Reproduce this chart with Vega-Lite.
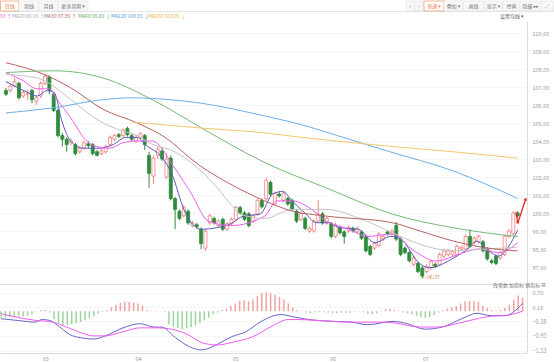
{
  "$schema": "https://vega.github.io/schema/vega-lite/v6.json",
  "padding": 0,
  "autosize": {"type": "pad"},
  "background": "#ffffff",
  "spacing": 0,
  "bounds": "flush",
  "resolve": {"scale": {"color": "independent", "x": "independent", "y": "independent"}},
  "config": {
    "view": {"stroke": null},
    "font": "Noto Sans CJK SC, DejaVu Sans",
    "axis": {"labelFont": "Noto Sans CJK SC, DejaVu Sans"}
  },
  "datasets": {
    "tb": [
      {"a": 0, "b": 1, "m": 0.5, "t": "日线", "kind": "on"},
      {"a": 1, "b": 2, "m": 1.5, "t": "周线", "kind": "off"},
      {"a": 2, "b": 3, "m": 2.5, "t": "月线", "kind": "off"},
      {"a": 3, "b": 4, "m": 3.5, "t": "更多周期 ▾", "kind": "off"},
      {"a": 5, "b": 6, "m": 5.5, "t": "+", "kind": "sym"},
      {"a": 6, "b": 7, "m": 6.5, "t": "−", "kind": "sym"},
      {"a": 7, "b": 8, "m": 7.5, "t": "普通 ▾", "kind": "on"},
      {"a": 8, "b": 9, "m": 8.5, "t": "叠加 ▾", "kind": "off"},
      {"a": 9, "b": 10, "m": 9.5, "t": "画线", "kind": "off"},
      {"a": 10, "b": 11, "m": 10.5, "t": "显示 ▾", "kind": "off"},
      {"a": 11, "b": 12, "m": 11.5, "t": "经典", "kind": "off"},
      {"a": 12, "b": 13, "m": 12.5, "t": "隐藏 ▸▸", "kind": "off"},
      {"a": 13, "b": 14, "m": 13.5, "t": "⤢", "kind": "sym"}
    ],
    "lg": [
      {"n": 0, "t": "93 ↑", "kind": "ma10"},
      {"n": 1, "t": "MA20 98.10 ↑", "kind": "ma20"},
      {"n": 2, "t": "MA30 97.89 ↑", "kind": "ma30"},
      {"n": 3, "t": "MA60 98.69 ↓", "kind": "ma60"},
      {"n": 4, "t": "MA120 100.81 ↓", "kind": "ma120"},
      {"n": 5, "t": "MA250 103.05 ↓", "kind": "ma250"},
      {"n": 6, "t": "设置均线 ▾", "kind": "ui"}
    ],
    "k": [
      {"i":0,"o":106.8,"c":106.6,"h":106.95,"l":106.5},
      {"i":1,"o":106.8,"c":107.05,"h":107.15,"l":106.7},
      {"i":2,"o":107.05,"c":107.3,"h":107.5,"l":107.0},
      {"i":3,"o":107.2,"c":106.4,"h":107.3,"l":106.3},
      {"i":4,"o":106.5,"c":106.7,"h":106.8,"l":106.4},
      {"i":5,"o":106.6,"c":106.62,"h":106.85,"l":106.3},
      {"i":6,"o":106.8,"c":106.3,"h":106.9,"l":106.1},
      {"i":7,"o":106.2,"c":106.4,"h":106.5,"l":106.0},
      {"i":8,"o":106.5,"c":107.2,"h":107.3,"l":106.4},
      {"i":9,"o":107.2,"c":107.6,"h":107.75,"l":107.1},
      {"i":10,"o":107.55,"c":106.8,"h":107.65,"l":106.6},
      {"i":11,"o":106.6,"c":105.7,"h":106.7,"l":105.6},
      {"i":12,"o":105.7,"c":104.3,"h":105.8,"l":104.2},
      {"i":13,"o":104.3,"c":104.1,"h":104.45,"l":103.7},
      {"i":14,"o":104.1,"c":103.8,"h":104.2,"l":103.4},
      {"i":15,"o":103.9,"c":104.0,"h":104.15,"l":103.75},
      {"i":16,"o":103.8,"c":103.3,"h":103.9,"l":103.2},
      {"i":17,"o":103.4,"c":103.6,"h":103.7,"l":103.3},
      {"i":18,"o":103.6,"c":103.9,"h":104.0,"l":103.5},
      {"i":19,"o":103.85,"c":103.75,"h":104.0,"l":103.6},
      {"i":20,"o":103.8,"c":103.3,"h":103.9,"l":103.2},
      {"i":21,"o":103.4,"c":103.2,"h":103.5,"l":103.15},
      {"i":22,"o":103.3,"c":103.45,"h":103.55,"l":103.2},
      {"i":23,"o":103.4,"c":103.7,"h":103.8,"l":103.3},
      {"i":24,"o":103.8,"c":104.2,"h":104.3,"l":103.7},
      {"i":25,"o":104.1,"c":104.3,"h":104.4,"l":104.0},
      {"i":26,"o":104.35,"c":104.25,"h":104.45,"l":104.15},
      {"i":27,"o":104.3,"c":104.6,"h":104.7,"l":104.2},
      {"i":28,"o":104.7,"c":104.35,"h":104.8,"l":104.25},
      {"i":29,"o":104.3,"c":104.1,"h":104.4,"l":104.0},
      {"i":30,"o":104.0,"c":104.2,"h":104.35,"l":103.9},
      {"i":31,"o":104.2,"c":104.4,"h":104.5,"l":104.1},
      {"i":32,"o":104.3,"c":103.8,"h":104.4,"l":103.5},
      {"i":33,"o":103.2,"c":102.2,"h":103.4,"l":101.4},
      {"i":34,"o":102.05,"c":103.05,"h":103.2,"l":101.6},
      {"i":35,"o":103.2,"c":103.55,"h":103.7,"l":103.0},
      {"i":36,"o":103.45,"c":103.0,"h":103.6,"l":102.9},
      {"i":37,"o":102.0,"c":103.0,"h":103.3,"l":101.9},
      {"i":38,"o":103.05,"c":100.8,"h":103.2,"l":100.7},
      {"i":39,"o":100.8,"c":100.2,"h":100.9,"l":99.1},
      {"i":40,"o":100.1,"c":99.7,"h":100.2,"l":99.6},
      {"i":41,"o":99.85,"c":100.3,"h":100.45,"l":99.75},
      {"i":42,"o":100.1,"c":99.45,"h":100.2,"l":99.35},
      {"i":43,"o":99.3,"c":99.45,"h":99.55,"l":99.2},
      {"i":44,"o":99.35,"c":99.25,"h":99.45,"l":99.15},
      {"i":45,"o":99.1,"c":98.3,"h":99.2,"l":98.0},
      {"i":46,"o":98.05,"c":99.0,"h":99.1,"l":97.9},
      {"i":47,"o":99.45,"c":99.85,"h":99.95,"l":99.35},
      {"i":48,"o":99.7,"c":99.45,"h":99.8,"l":99.35},
      {"i":49,"o":99.3,"c":99.55,"h":99.65,"l":99.2},
      {"i":50,"o":99.65,"c":99.1,"h":99.75,"l":99.0},
      {"i":51,"o":99.1,"c":99.4,"h":99.5,"l":99.0},
      {"i":52,"o":99.4,"c":99.65,"h":99.75,"l":99.3},
      {"i":53,"o":99.65,"c":100.3,"h":100.4,"l":99.55},
      {"i":54,"o":100.3,"c":100.0,"h":100.4,"l":99.9},
      {"i":55,"o":100.0,"c":99.65,"h":100.1,"l":99.55},
      {"i":56,"o":99.95,"c":99.3,"h":100.05,"l":99.2},
      {"i":57,"o":99.55,"c":99.85,"h":99.95,"l":99.45},
      {"i":58,"o":99.95,"c":100.7,"h":100.8,"l":99.85},
      {"i":59,"o":100.7,"c":100.35,"h":100.8,"l":100.25},
      {"i":60,"o":100.8,"c":101.8,"h":101.95,"l":100.7},
      {"i":61,"o":101.7,"c":101.05,"h":101.8,"l":100.95},
      {"i":62,"o":100.5,"c":101.1,"h":101.2,"l":100.4},
      {"i":63,"o":101.05,"c":100.95,"h":101.2,"l":100.85},
      {"i":64,"o":100.7,"c":101.1,"h":101.2,"l":100.6},
      {"i":65,"o":100.8,"c":100.5,"h":100.9,"l":100.4},
      {"i":66,"o":100.7,"c":100.2,"h":100.8,"l":100.1},
      {"i":67,"o":100.1,"c":99.55,"h":100.2,"l":99.45},
      {"i":68,"o":99.65,"c":100.0,"h":100.1,"l":99.55},
      {"i":69,"o":99.7,"c":99.15,"h":99.8,"l":99.05},
      {"i":70,"o":99.0,"c":99.15,"h":99.25,"l":98.9},
      {"i":71,"o":99.0,"c":99.55,"h":99.65,"l":98.9},
      {"i":72,"o":99.55,"c":99.95,"h":100.7,"l":99.45},
      {"i":73,"o":99.95,"c":99.45,"h":100.05,"l":99.35},
      {"i":74,"o":99.45,"c":99.7,"h":99.8,"l":99.35},
      {"i":75,"o":99.4,"c":98.7,"h":99.5,"l":98.6},
      {"i":76,"o":98.7,"c":99.35,"h":99.45,"l":98.6},
      {"i":77,"o":99.2,"c":98.9,"h":99.3,"l":98.8},
      {"i":78,"o":98.95,"c":98.7,"h":99.05,"l":98.3},
      {"i":79,"o":99.0,"c":99.2,"h":99.3,"l":98.9},
      {"i":80,"o":99.15,"c":99.0,"h":99.25,"l":98.9},
      {"i":81,"o":98.95,"c":99.15,"h":99.25,"l":98.85},
      {"i":82,"o":98.95,"c":98.6,"h":99.05,"l":98.5},
      {"i":83,"o":98.7,"c":97.9,"h":98.8,"l":97.8},
      {"i":84,"o":98.15,"c":97.7,"h":98.25,"l":97.6},
      {"i":85,"o":98.05,"c":98.3,"h":98.4,"l":97.95},
      {"i":86,"o":98.2,"c":98.85,"h":98.95,"l":98.1},
      {"i":87,"o":98.55,"c":98.7,"h":98.8,"l":98.45},
      {"i":88,"o":98.95,"c":98.85,"h":99.05,"l":98.75},
      {"i":89,"o":98.85,"c":99.0,"h":99.1,"l":98.75},
      {"i":90,"o":99.3,"c":98.55,"h":99.5,"l":98.45},
      {"i":91,"o":98.55,"c":97.7,"h":98.65,"l":97.6},
      {"i":92,"o":98.05,"c":97.8,"h":98.15,"l":97.7},
      {"i":93,"o":97.8,"c":97.35,"h":97.9,"l":97.25},
      {"i":94,"o":97.15,"c":97.5,"h":97.6,"l":97.05},
      {"i":95,"o":97.2,"c":96.75,"h":97.3,"l":96.65},
      {"i":96,"o":96.95,"c":96.5,"h":97.05,"l":96.37},
      {"i":97,"o":96.75,"c":97.05,"h":97.15,"l":96.65},
      {"i":98,"o":96.95,"c":97.3,"h":97.4,"l":96.85},
      {"i":99,"o":97.15,"c":97.05,"h":97.25,"l":96.95},
      {"i":100,"o":97.15,"c":97.7,"h":97.8,"l":97.05},
      {"i":101,"o":97.6,"c":97.9,"h":98.0,"l":97.5},
      {"i":102,"o":97.7,"c":97.9,"h":98.0,"l":97.6},
      {"i":103,"o":97.7,"c":97.85,"h":97.95,"l":97.6},
      {"i":104,"o":97.7,"c":98.15,"h":98.25,"l":97.6},
      {"i":105,"o":98.0,"c":98.1,"h":98.2,"l":97.9},
      {"i":106,"o":98.0,"c":98.7,"h":98.8,"l":97.9},
      {"i":107,"o":98.7,"c":98.15,"h":99.1,"l":98.05},
      {"i":108,"o":98.35,"c":98.6,"h":98.7,"l":98.25},
      {"i":109,"o":98.4,"c":98.7,"h":98.8,"l":98.3},
      {"i":110,"o":98.4,"c":97.9,"h":98.5,"l":97.8},
      {"i":111,"o":98.0,"c":97.45,"h":98.1,"l":97.35},
      {"i":112,"o":97.35,"c":97.25,"h":97.45,"l":97.15},
      {"i":113,"o":97.6,"c":97.2,"h":97.7,"l":97.1},
      {"i":114,"o":97.5,"c":97.8,"h":97.9,"l":97.4},
      {"i":115,"o":97.7,"c":98.7,"h":98.8,"l":97.6},
      {"i":116,"o":98.7,"c":99.0,"h":99.1,"l":98.6},
      {"i":117,"o":98.85,"c":100.0,"h":100.1,"l":98.75},
      {"i":118,"o":100.0,"c":99.85,"h":100.1,"l":99.75}
    ],
    "ma": [
      {"ma":"MA5","i":0,"v":107.3},{"ma":"MA5","i":2.7,"v":106.96},{"ma":"MA5","i":5,"v":106.7},{"ma":"MA5","i":7.2,"v":106.5},{"ma":"MA5","i":9.5,"v":106.8},{"ma":"MA5","i":11.1,"v":106.7},{"ma":"MA5","i":12.9,"v":105.1},{"ma":"MA5","i":14.9,"v":104.0},{"ma":"MA5","i":17.9,"v":103.6},{"ma":"MA5","i":21.7,"v":103.6},{"ma":"MA5","i":24.7,"v":103.8},{"ma":"MA5","i":27.6,"v":104.2},{"ma":"MA5","i":30.3,"v":104.2},{"ma":"MA5","i":32.1,"v":103.8},{"ma":"MA5","i":36,"v":103.07},{"ma":"MA5","i":38.2,"v":102.2},{"ma":"MA5","i":41.2,"v":100.1},{"ma":"MA5","i":45,"v":99.1},{"ma":"MA5","i":48.9,"v":99.2},{"ma":"MA5","i":51.8,"v":99.4},{"ma":"MA5","i":54.8,"v":99.83},{"ma":"MA5","i":58.6,"v":99.94},{"ma":"MA5","i":61.5,"v":101.05},{"ma":"MA5","i":63.8,"v":101.2},{"ma":"MA5","i":66,"v":100.67},{"ma":"MA5","i":69.2,"v":99.94},{"ma":"MA5","i":71.5,"v":99.46},{"ma":"MA5","i":74.4,"v":99.46},{"ma":"MA5","i":76.7,"v":99.2},{"ma":"MA5","i":81.2,"v":99.1},{"ma":"MA5","i":85.1,"v":98.35},{"ma":"MA5","i":88.7,"v":98.7},{"ma":"MA5","i":91,"v":98.56},{"ma":"MA5","i":95.5,"v":97.17},{"ma":"MA5","i":97.7,"v":96.96},{"ma":"MA5","i":103.2,"v":97.5},{"ma":"MA5","i":106.8,"v":98.07},{"ma":"MA5","i":108.4,"v":98.44},{"ma":"MA5","i":111.3,"v":97.9},{"ma":"MA5","i":113.6,"v":97.6},{"ma":"MA5","i":115.8,"v":98.1},{"ma":"MA5","i":118,"v":99.05},
      {"ma":"MA10","i":0,"v":107.8},{"ma":"MA10","i":3.6,"v":107.4},{"ma":"MA10","i":7.2,"v":106.9},{"ma":"MA10","i":10,"v":106.9},{"ma":"MA10","i":11.8,"v":106.3},{"ma":"MA10","i":14.9,"v":105.3},{"ma":"MA10","i":18.6,"v":104.0},{"ma":"MA10","i":20.8,"v":103.7},{"ma":"MA10","i":24,"v":103.6},{"ma":"MA10","i":26.9,"v":103.9},{"ma":"MA10","i":30.3,"v":104.0},{"ma":"MA10","i":33.7,"v":104.0},{"ma":"MA10","i":38.9,"v":102.5},{"ma":"MA10","i":42.8,"v":101.05},{"ma":"MA10","i":46.6,"v":99.56},{"ma":"MA10","i":51.8,"v":99.3},{"ma":"MA10","i":59.7,"v":99.83},{"ma":"MA10","i":62.4,"v":100.67},{"ma":"MA10","i":66.1,"v":100.67},{"ma":"MA10","i":69.9,"v":100.3},{"ma":"MA10","i":73.8,"v":99.56},{"ma":"MA10","i":79,"v":99.1},{"ma":"MA10","i":83.5,"v":98.7},{"ma":"MA10","i":89.1,"v":98.83},{"ma":"MA10","i":94.1,"v":97.9},{"ma":"MA10","i":99.3,"v":97.33},{"ma":"MA10","i":103.2,"v":97.6},{"ma":"MA10","i":109.1,"v":98.0},{"ma":"MA10","i":113.6,"v":97.8},{"ma":"MA10","i":118,"v":98.35},
      {"ma":"MA20","i":0,"v":107.7},{"ma":"MA20","i":7.2,"v":107.5},{"ma":"MA20","i":10,"v":107.2},{"ma":"MA20","i":14.9,"v":106.3},{"ma":"MA20","i":22.4,"v":105.0},{"ma":"MA20","i":26.9,"v":104.56},{"ma":"MA20","i":30.3,"v":104.3},{"ma":"MA20","i":33,"v":103.9},{"ma":"MA20","i":38.9,"v":103.4},{"ma":"MA20","i":48,"v":101.6},{"ma":"MA20","i":51.8,"v":100.5},{"ma":"MA20","i":54,"v":99.94},{"ma":"MA20","i":59.7,"v":99.7},{"ma":"MA20","i":66.1,"v":100.2},{"ma":"MA20","i":73.8,"v":100.2},{"ma":"MA20","i":81.2,"v":99.74},{"ma":"MA20","i":89.1,"v":98.9},{"ma":"MA20","i":95.5,"v":98.26},{"ma":"MA20","i":103.2,"v":97.9},{"ma":"MA20","i":110.6,"v":98.0},{"ma":"MA20","i":118,"v":98.1},
      {"ma":"MA30","i":0,"v":108.35},{"ma":"MA30","i":8.8,"v":107.7},{"ma":"MA30","i":14.9,"v":106.96},{"ma":"MA30","i":22.4,"v":105.76},{"ma":"MA30","i":30.3,"v":105.0},{"ma":"MA30","i":36.7,"v":104.2},{"ma":"MA30","i":44.3,"v":102.7},{"ma":"MA30","i":51.8,"v":101.6},{"ma":"MA30","i":59.7,"v":100.67},{"ma":"MA30","i":66.1,"v":100.1},{"ma":"MA30","i":73.8,"v":99.83},{"ma":"MA30","i":89.1,"v":99.46},{"ma":"MA30","i":95.5,"v":99.0},{"ma":"MA30","i":103.2,"v":98.44},{"ma":"MA30","i":110.6,"v":98.07},{"ma":"MA30","i":118,"v":97.89},
      {"ma":"MA60","i":0,"v":107.8},{"ma":"MA60","i":11.1,"v":107.9},{"ma":"MA60","i":22.4,"v":107.5},{"ma":"MA60","i":33.7,"v":106.3},{"ma":"MA60","i":45,"v":104.74},{"ma":"MA60","i":51.8,"v":103.8},{"ma":"MA60","i":59.7,"v":102.8},{"ma":"MA60","i":73.8,"v":101.4},{"ma":"MA60","i":89.1,"v":99.94},{"ma":"MA60","i":103.2,"v":99.18},{"ma":"MA60","i":110.6,"v":98.9},{"ma":"MA60","i":118,"v":98.69},
      {"ma":"MA120","i":0,"v":105.56},{"ma":"MA120","i":11.1,"v":105.85},{"ma":"MA120","i":22.4,"v":106.3},{"ma":"MA120","i":29.2,"v":106.4},{"ma":"MA120","i":37.6,"v":106.3},{"ma":"MA120","i":45,"v":106.1},{"ma":"MA120","i":59.7,"v":105.39},{"ma":"MA120","i":67.6,"v":104.94},{"ma":"MA120","i":79,"v":104.11},{"ma":"MA120","i":88,"v":103.44},{"ma":"MA120","i":103.2,"v":102.33},{"ma":"MA120","i":110.6,"v":101.61},{"ma":"MA120","i":118,"v":100.81},
      {"ma":"MA250","i":29.2,"v":105.05},{"ma":"MA250","i":45,"v":104.72},{"ma":"MA250","i":59.7,"v":104.45},{"ma":"MA250","i":67.6,"v":104.22},{"ma":"MA250","i":90.3,"v":103.67},{"ma":"MA250","i":103.2,"v":103.4},{"ma":"MA250","i":118,"v":103.05}
    ],
    "low": [{"i": 96, "v": 96.37, "t": "←96.37"}],
    "arrow": [
      {"o": 0, "i": 117.6, "v": 100.05},
      {"o": 1, "i": 118.05, "v": 99.45},
      {"o": 2, "i": 119.85, "v": 100.78}
    ],
    "heads": [
      {"i": 118.05, "v": 99.45, "h": "down"},
      {"i": 119.85, "v": 100.78, "h": "up"}
    ],
    "hist": [
      {"i":0,"h":-0.25},{"i":1,"h":-0.25},{"i":2,"h":-0.22},{"i":3,"h":-0.22},{"i":4,"h":-0.2},{"i":5,"h":-0.2},{"i":6,"h":-0.18},{"i":7,"h":-0.12},{"i":8,"h":-0.02},{"i":9,"h":0.05},
      {"i":10,"h":0.05},{"i":11,"h":-0.05},{"i":12,"h":-0.3},{"i":13,"h":-0.45},{"i":14,"h":-0.55},{"i":15,"h":-0.55},{"i":16,"h":-0.5},{"i":17,"h":-0.45},{"i":18,"h":-0.42},{"i":19,"h":-0.35},
      {"i":20,"h":-0.28},{"i":21,"h":-0.2},{"i":22,"h":-0.1},{"i":23,"h":-0.03},{"i":24,"h":0.05},{"i":25,"h":0.15},{"i":26,"h":0.25},{"i":27,"h":0.32},{"i":28,"h":0.35},{"i":29,"h":0.35},
      {"i":30,"h":0.33},{"i":31,"h":0.3},{"i":32,"h":0.22},{"i":33,"h":0.05},{"i":34,"h":0.02},{"i":35,"h":0.02},{"i":36,"h":0.01},{"i":37,"h":-0.03},{"i":38,"h":-0.5},{"i":39,"h":-0.6},
      {"i":40,"h":-0.65},{"i":41,"h":-0.68},{"i":42,"h":-0.65},{"i":43,"h":-0.62},{"i":44,"h":-0.55},{"i":45,"h":-0.45},{"i":46,"h":-0.35},{"i":47,"h":-0.25},{"i":48,"h":-0.12},{"i":49,"h":-0.05},
      {"i":50,"h":0.05},{"i":51,"h":0.1},{"i":52,"h":0.2},{"i":53,"h":0.3},{"i":54,"h":0.4},{"i":55,"h":0.42},{"i":56,"h":0.38},{"i":57,"h":0.45},{"i":58,"h":0.58},{"i":59,"h":0.7},
      {"i":60,"h":0.72},{"i":61,"h":0.7},{"i":62,"h":0.62},{"i":63,"h":0.55},{"i":64,"h":0.45},{"i":65,"h":0.3},{"i":66,"h":0.15},{"i":67,"h":0.05},{"i":68,"h":0.02},{"i":69,"h":-0.05},
      {"i":70,"h":-0.08},{"i":71,"h":-0.05},{"i":72,"h":-0.03},{"i":73,"h":-0.04},{"i":74,"h":-0.06},{"i":75,"h":-0.08},{"i":76,"h":-0.08},{"i":77,"h":-0.06},{"i":78,"h":-0.07},{"i":79,"h":-0.05},
      {"i":80,"h":-0.02},{"i":81,"h":0.01},{"i":82,"h":-0.04},{"i":83,"h":-0.1},{"i":84,"h":-0.12},{"i":85,"h":-0.08},{"i":86,"h":0.02},{"i":87,"h":0.08},{"i":88,"h":0.08},{"i":89,"h":0.05},
      {"i":90,"h":0.02},{"i":91,"h":-0.05},{"i":92,"h":-0.08},{"i":93,"h":-0.12},{"i":94,"h":-0.18},{"i":95,"h":-0.22},{"i":96,"h":-0.25},{"i":97,"h":-0.22},{"i":98,"h":-0.15},{"i":99,"h":-0.05},
      {"i":100,"h":0.05},{"i":101,"h":0.1},{"i":102,"h":0.15},{"i":103,"h":0.2},{"i":104,"h":0.3},{"i":105,"h":0.38},{"i":106,"h":0.4},{"i":107,"h":0.38},{"i":108,"h":0.36},{"i":109,"h":0.2},
      {"i":110,"h":0.12},{"i":111,"h":0.05},{"i":112,"h":0.02},{"i":113,"h":0.05},{"i":114,"h":0.12},{"i":115,"h":0.25},{"i":116,"h":0.45},{"i":117,"h":0.6},{"i":118,"h":0.5}
    ],
    "macd": [
      {"s":"DIF","i":0,"v":-0.29},{"s":"DIF","i":4,"v":-0.36},{"s":"DIF","i":7.7,"v":-0.42},{"s":"DIF","i":9.3,"v":-0.32},{"s":"DIF","i":10.9,"v":-0.35},{"s":"DIF","i":13.3,"v":-0.61},{"s":"DIF","i":15.6,"v":-0.9},{"s":"DIF","i":18,"v":-1.02},{"s":"DIF","i":21,"v":-1.07},{"s":"DIF","i":23.6,"v":-0.95},{"s":"DIF","i":27.6,"v":-0.64},{"s":"DIF","i":31.5,"v":-0.48},{"s":"DIF","i":34.7,"v":-0.61},{"s":"DIF","i":36.3,"v":-0.61},{"s":"DIF","i":39.5,"v":-1.02},{"s":"DIF","i":42.6,"v":-1.36},{"s":"DIF","i":45.4,"v":-1.49},{"s":"DIF","i":49,"v":-1.27},{"s":"DIF","i":52.2,"v":-0.98},{"s":"DIF","i":55.4,"v":-0.79},{"s":"DIF","i":58.6,"v":-0.42},{"s":"DIF","i":63.3,"v":-0.13},{"s":"DIF","i":66.5,"v":-0.23},{"s":"DIF","i":69.6,"v":-0.32},{"s":"DIF","i":75.2,"v":-0.39},{"s":"DIF","i":79.2,"v":-0.42},{"s":"DIF","i":83,"v":-0.52},{"s":"DIF","i":88.7,"v":-0.39},{"s":"DIF","i":91.9,"v":-0.48},{"s":"DIF","i":95.9,"v":-0.69},{"s":"DIF","i":99.8,"v":-0.61},{"s":"DIF","i":104.5,"v":-0.27},{"s":"DIF","i":107.7,"v":-0.08},{"s":"DIF","i":110.9,"v":-0.17},{"s":"DIF","i":114,"v":-0.17},{"s":"DIF","i":118,"v":0.3},
      {"s":"DEA","i":0,"v":-0.1},{"s":"DEA","i":7.7,"v":-0.35},{"s":"DEA","i":11.7,"v":-0.42},{"s":"DEA","i":15.7,"v":-0.67},{"s":"DEA","i":21.2,"v":-0.95},{"s":"DEA","i":23.6,"v":-0.95},{"s":"DEA","i":27.6,"v":-0.79},{"s":"DEA","i":31.5,"v":-0.64},{"s":"DEA","i":35.5,"v":-0.64},{"s":"DEA","i":37.9,"v":-0.67},{"s":"DEA","i":41.8,"v":-0.86},{"s":"DEA","i":45.8,"v":-1.23},{"s":"DEA","i":49,"v":-1.3},{"s":"DEA","i":52.2,"v":-1.2},{"s":"DEA","i":57,"v":-0.98},{"s":"DEA","i":61.7,"v":-0.54},{"s":"DEA","i":64.9,"v":-0.32},{"s":"DEA","i":67.3,"v":-0.32},{"s":"DEA","i":71.2,"v":-0.35},{"s":"DEA","i":79.2,"v":-0.42},{"s":"DEA","i":87.1,"v":-0.42},{"s":"DEA","i":95,"v":-0.61},{"s":"DEA","i":99,"v":-0.61},{"s":"DEA","i":103,"v":-0.48},{"s":"DEA","i":107,"v":-0.32},{"s":"DEA","i":111,"v":-0.19},{"s":"DEA","i":114,"v":-0.17},{"s":"DEA","i":118,"v":0.0}
    ]
  },
  "vconcat": [
    {
      "width": 554,
      "height": 10,
      "data": {"name": "tb"},
      "layer": [
        {
          "mark": {"type": "rect", "strokeWidth": 0.6},
          "encoding": {
            "x": {"field": "a", "type": "quantitative", "title": null,
              "scale": {"domain": [0, 1, 2, 3, 4, 5, 6, 7, 8, 9, 10, 11, 12, 13, 14], "range": [0.5, 19, 39, 58, 88, 406, 415, 424, 444, 463, 484, 503, 520, 541, 553.5], "nice": false, "zero": false},
              "axis": {"labels": false, "ticks": false, "grid": false, "domain": true, "domainColor": "#e4e4e4", "title": null}},
            "x2": {"field": "b"},
            "fill": {"condition": {"test": "datum.kind == 'on'", "value": "#ffffff"}, "value": "#f7f7f7"},
            "stroke": {"condition": {"test": "datum.kind == 'on'", "value": "#f0834a"}, "value": "#e2e2e2"}
          }
        },
        {
          "mark": {"type": "text", "fontSize": 5, "align": "center", "baseline": "middle"},
          "encoding": {
            "x": {"field": "m", "type": "quantitative", "title": null},
            "text": {"field": "t"},
            "color": {"field": "kind", "type": "nominal", "legend": null,
              "scale": {"domain": ["on", "off", "sym"], "range": ["#f0834a", "#777777", "#999999"]}}
          }
        }
      ]
    },
    {
      "width": 554,
      "height": 10,
      "data": {"name": "lg"},
      "mark": {"type": "text", "fontSize": 5, "align": "left", "baseline": "middle"},
      "encoding": {
        "x": {
          "field": "n", "type": "quantitative", "title": null,
          "scale": {"domain": [0, 1, 2, 3, 4, 5, 6], "range": [0, 12, 44, 78, 111, 148, 500], "nice": false, "zero": false},
          "axis": null
        },
        "text": {"field": "t"},
        "color": {"field": "kind", "type": "nominal", "legend": null,
          "scale": {"domain": ["ma10", "ma20", "ma30", "ma60", "ma120", "ma250", "ui"], "range": ["#e060e0", "#a8a8a8", "#b8625f", "#5eae5a", "#4a9be0", "#f0b040", "#666666"]}}
      }
    },
    {
      "width": 527,
      "height": 263,
      "layer": [
        {
          "data": {"name": "k"},
          "mark": {"type": "rule", "strokeWidth": 1, "clip": true},
          "encoding": {
            "x": {"field": "i", "type": "quantitative", "title": null,
              "scale": {"domain": [-0.226, 119.0], "nice": false, "zero": false},
              "axis": {"labels": false, "ticks": false, "grid": false, "domain": true, "domainColor": "#dddddd", "title": null}},
            "y": {"field": "l", "type": "quantitative", "title": null,
              "scale": {"domain": [96.056, 110.667], "nice": false, "zero": false},
              "axis": {"orient": "right", "values": [97, 98, 99, 100, 101, 102, 103, 104, 105, 106, 107, 108, 109, 110], "format": ".2f", "tickCount": 14,
                "labelFontSize": 5.5, "labelColor": "#999999", "labelPadding": 5, "labelOverlap": false, "labelFlush": false, "ticks": false, "domain": true, "domainColor": "#dddddd",
                "grid": true, "gridColor": "#e8e8e8", "gridDash": [2, 2], "gridWidth": 0.8, "title": null}},
            "y2": {"field": "h"},
            "color": {"condition": {"test": "datum.c >= datum.o", "value": "#ef7f7f"}, "value": "#2e8b3a"}
          }
        },
        {
          "data": {"name": "k"},
          "mark": {"type": "bar", "width": 3, "strokeWidth": 0.8, "clip": true},
          "encoding": {
            "x": {"field": "i", "type": "quantitative", "title": null},
            "y": {"field": "o", "type": "quantitative", "title": null,
              "axis": {"orient": "right", "values": [97, 98, 99, 100, 101, 102, 103, 104, 105, 106, 107, 108, 109, 110], "format": ".2f", "tickCount": 14,
                "labelFontSize": 5.5, "labelColor": "#999999", "labelPadding": 5, "labelOverlap": false, "labelFlush": false, "ticks": false, "domain": true, "domainColor": "#dddddd",
                "grid": true, "gridColor": "#e8e8e8", "gridDash": [2, 2], "gridWidth": 0.8, "title": null}},
            "y2": {"field": "c"},
            "fill": {"condition": {"test": "datum.c >= datum.o", "value": "#ffffff"}, "value": "#2e8b3a"},
            "stroke": {"condition": {"test": "datum.c >= datum.o", "value": "#ef7f7f"}, "value": "#2e8b3a"}
          }
        },
        {
          "data": {"name": "ma"},
          "mark": {"type": "line", "strokeWidth": 1, "clip": true, "interpolate": "monotone"},
          "encoding": {
            "x": {"field": "i", "type": "quantitative", "title": null},
            "y": {"field": "v", "type": "quantitative", "title": null,
              "axis": {"orient": "right", "values": [97, 98, 99, 100, 101, 102, 103, 104, 105, 106, 107, 108, 109, 110], "format": ".2f", "tickCount": 14,
                "labelFontSize": 5.5, "labelColor": "#999999", "labelPadding": 5, "labelOverlap": false, "labelFlush": false, "ticks": false, "domain": true, "domainColor": "#dddddd",
                "grid": true, "gridColor": "#e8e8e8", "gridDash": [2, 2], "gridWidth": 0.8, "title": null}},
            "color": {"field": "ma", "type": "nominal", "legend": null,
              "scale": {"domain": ["MA5", "MA10", "MA20", "MA30", "MA60", "MA120", "MA250"],
                "range": ["#5b5bc0", "#f05cf0", "#c4c4c4", "#b8625f", "#74bb70", "#6cb0e8", "#f6c66a"]}},
            "detail": {"field": "ma"}
          }
        },
        {
          "data": {"name": "low"},
          "mark": {"type": "text", "fontSize": 5, "align": "left", "baseline": "middle", "dx": 0, "dy": -1, "color": "#d9823b"},
          "encoding": {
            "x": {"field": "i", "type": "quantitative", "title": null},
            "y": {"field": "v", "type": "quantitative", "title": null,
              "axis": {"orient": "right", "values": [97, 98, 99, 100, 101, 102, 103, 104, 105, 106, 107, 108, 109, 110], "format": ".2f", "tickCount": 14,
                "labelFontSize": 5.5, "labelColor": "#999999", "labelPadding": 5, "labelOverlap": false, "labelFlush": false, "ticks": false, "domain": true, "domainColor": "#dddddd",
                "grid": true, "gridColor": "#e8e8e8", "gridDash": [2, 2], "gridWidth": 0.8, "title": null}},
            "text": {"field": "t"}
          }
        },
        {
          "data": {"name": "arrow"},
          "mark": {"type": "line", "strokeWidth": 1.4, "color": "#ee2a2a", "clip": false},
          "encoding": {
            "x": {"field": "i", "type": "quantitative", "title": null},
            "y": {"field": "v", "type": "quantitative", "title": null,
              "axis": {"orient": "right", "values": [97, 98, 99, 100, 101, 102, 103, 104, 105, 106, 107, 108, 109, 110], "format": ".2f", "tickCount": 14,
                "labelFontSize": 5.5, "labelColor": "#999999", "labelPadding": 5, "labelOverlap": false, "labelFlush": false, "ticks": false, "domain": true, "domainColor": "#dddddd",
                "grid": true, "gridColor": "#e8e8e8", "gridDash": [2, 2], "gridWidth": 0.8, "title": null}},
            "order": {"field": "o"}
          }
        },
        {
          "data": {"name": "heads"},
          "transform": [{"filter": "datum.h == 'down'"}],
          "mark": {"type": "point", "shape": "triangle-down", "filled": true, "size": 14, "color": "#ee2a2a", "angle": -11, "opacity": 1, "clip": false},
          "encoding": {
            "x": {"field": "i", "type": "quantitative", "title": null},
            "y": {"field": "v", "type": "quantitative", "title": null,
              "axis": {"orient": "right", "values": [97, 98, 99, 100, 101, 102, 103, 104, 105, 106, 107, 108, 109, 110], "format": ".2f", "tickCount": 14,
                "labelFontSize": 5.5, "labelColor": "#999999", "labelPadding": 5, "labelOverlap": false, "labelFlush": false, "ticks": false, "domain": true, "domainColor": "#dddddd",
                "grid": true, "gridColor": "#e8e8e8", "gridDash": [2, 2], "gridWidth": 0.8, "title": null}}
          }
        },
        {
          "data": {"name": "heads"},
          "transform": [{"filter": "datum.h == 'up'"}],
          "mark": {"type": "point", "shape": "triangle-up", "filled": true, "size": 14, "color": "#ee2a2a", "angle": 19, "opacity": 1, "clip": false},
          "encoding": {
            "x": {"field": "i", "type": "quantitative", "title": null},
            "y": {"field": "v", "type": "quantitative", "title": null,
              "axis": {"orient": "right", "values": [97, 98, 99, 100, 101, 102, 103, 104, 105, 106, 107, 108, 109, 110], "format": ".2f", "tickCount": 14,
                "labelFontSize": 5.5, "labelColor": "#999999", "labelPadding": 5, "labelOverlap": false, "labelFlush": false, "ticks": false, "domain": true, "domainColor": "#dddddd",
                "grid": true, "gridColor": "#e8e8e8", "gridDash": [2, 2], "gridWidth": 0.8, "title": null}}
          }
        }
      ]
    },
    {
      "width": 527,
      "height": 69,
      "title": {"text": "改参数   加指标   换指标  ☒", "anchor": "end", "orient": "top", "offset": 0, "dy": 9, "fontSize": 5, "fontWeight": "normal", "color": "#777777", "baseline": "bottom"},
      "layer": [
        {
          "data": {"name": "hist"},
          "mark": {"type": "rule", "strokeWidth": 1.5, "clip": true},
          "encoding": {
            "x": {"field": "i", "type": "quantitative", "title": null,
              "scale": {"domain": [-0.226, 119.0], "nice": false, "zero": false},
              "axis": {"values": [10, 31, 53, 75, 96],
                "labelExpr": "datum.value == 10 ? '03' : datum.value == 31 ? '04' : datum.value == 53 ? '05' : datum.value == 75 ? '06' : '07'",
                "labelFontSize": 5.5, "labelColor": "#999999", "labelPadding": 3, "ticks": false, "grid": false,
                "domain": true, "domainColor": "#dddddd", "title": null}},
            "y": {"field": "h", "type": "quantitative", "title": null,
              "scale": {"domain": [-1.607, 1.046], "nice": false, "zero": false},
              "axis": {"orient": "right", "values": [0.7, 0.16, -0.38, -0.95, -1.53], "format": ".2f", "tickCount": 5,
                "labelFontSize": 5.5, "labelColor": "#999999", "labelPadding": 5, "labelOverlap": false, "labelFlush": false, "ticks": false, "domain": true, "domainColor": "#dddddd",
                "grid": true, "gridColor": "#e8e8e8", "gridDash": [2, 2], "gridWidth": 0.8, "title": null}},
            "y2": {"datum": 0},
            "color": {"condition": {"test": "datum.h >= 0", "value": "#f3a2a2"}, "value": "#9fd39c"}
          }
        },
        {
          "data": {"name": "macd"},
          "mark": {"type": "line", "strokeWidth": 1, "clip": true, "interpolate": "monotone"},
          "encoding": {
            "x": {"field": "i", "type": "quantitative", "title": null,
              "axis": {"values": [10, 31, 53, 75, 96],
                "labelExpr": "datum.value == 10 ? '03' : datum.value == 31 ? '04' : datum.value == 53 ? '05' : datum.value == 75 ? '06' : '07'",
                "labelFontSize": 5.5, "labelColor": "#999999", "labelPadding": 3, "ticks": false, "grid": false,
                "domain": true, "domainColor": "#dddddd", "title": null}},
            "y": {"field": "v", "type": "quantitative", "title": null,
              "axis": {"orient": "right", "values": [0.7, 0.16, -0.38, -0.95, -1.53], "format": ".2f", "tickCount": 5,
                "labelFontSize": 5.5, "labelColor": "#999999", "labelPadding": 5, "labelOverlap": false, "labelFlush": false, "ticks": false, "domain": true, "domainColor": "#dddddd",
                "grid": true, "gridColor": "#e8e8e8", "gridDash": [2, 2], "gridWidth": 0.8, "title": null}},
            "color": {"field": "s", "type": "nominal", "legend": null,
              "scale": {"domain": ["DIF", "DEA"], "range": ["#6565c8", "#f25cf2"]}},
            "detail": {"field": "s"}
          }
        }
      ]
    }
  ]
}
